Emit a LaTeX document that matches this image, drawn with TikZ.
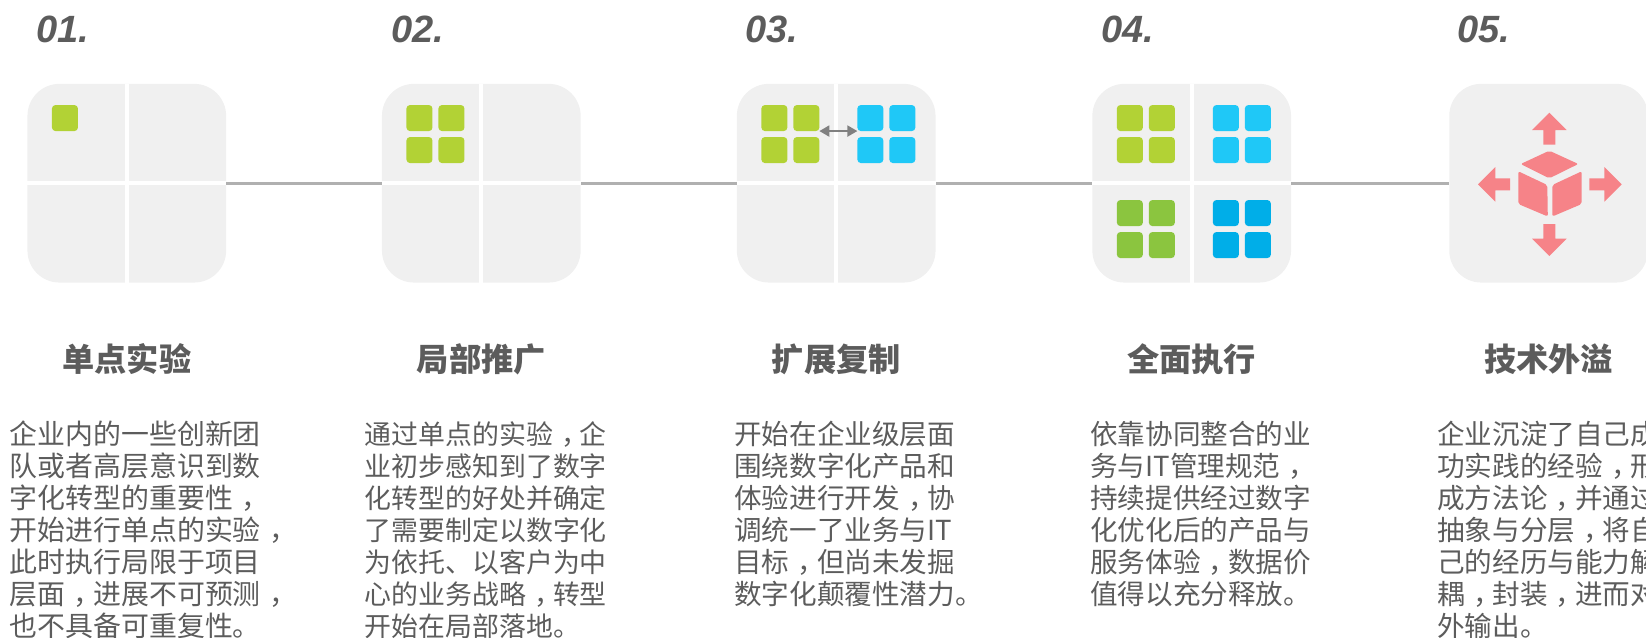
\documentclass[tikz,border=0pt]{standalone}
\usepackage{fontspec}
\setmainfont{Liberation Sans}
\newfontfamily\cjk{Noto Sans CJK SC}
\usepackage{tikz}
\usetikzlibrary{arrows.meta,positioning}
\definecolor{panelgray}{HTML}{F0F0F0}
\definecolor{linegray}{HTML}{B0B0B0}
\definecolor{textgray}{HTML}{5C5C5C}
\definecolor{limegreen}{HTML}{B2D235}
\definecolor{leafgreen}{HTML}{8BC53F}
\definecolor{skyblue}{HTML}{1FC8F7}
\definecolor{deepblue}{HTML}{00AEE8}
\definecolor{iconpink}{HTML}{F68388}
% comma sits in the middle of its cell
\newcommand{\zc}{\kern.3em，\kern-.3em}
\tikzstyle{panel} = [rectangle, fill=panelgray, rounded corners=32pt, minimum size=198.7pt, inner sep=0pt, outer sep=0pt]
\tikzstyle{gap} = [draw=white, line width=4pt]
\tikzstyle{tile} = [rectangle, rounded corners=3.5pt, minimum width=26pt, minimum height=26pt, inner sep=0pt, outer sep=0pt]
\tikzstyle{lime} = [tile, fill=limegreen]
\tikzstyle{leaf} = [tile, fill=leafgreen]
\tikzstyle{sky} = [tile, fill=skyblue]
\tikzstyle{deep} = [tile, fill=deepblue]
\tikzstyle{line} = [draw=linegray, line width=3pt]
\tikzstyle{swap} = [draw=gray, line width=2pt, {Triangle[length=10pt,width=11pt]}-{Triangle[length=10pt,width=11pt]}]
\tikzstyle{number} = [font=\fontsize{38}{38}\selectfont\bfseries\itshape, text=textgray, anchor=north west, inner sep=0pt]
\tikzstyle{heading} = [font=\cjk\fontsize{32.2}{36}\selectfont\bfseries, text=textgray, inner sep=0pt]
\tikzstyle{body} = [font=\cjk\fontsize{27.6}{32}\selectfont, text=textgray, align=left, anchor=north west, inner sep=0pt]
\tikzstyle{bodywide} = [body, font=\cjk\fontsize{27.9}{32}\selectfont]
\tikzstyle{bodynarrow} = [body, font=\cjk\fontsize{26.9}{32}\selectfont]
\tikzstyle{icon} = [fill=iconpink]
\tikzstyle{face} = [fill=iconpink, rounded corners=2pt]
\begin{document}
\begin{tikzpicture}[x=1pt, y=-1pt, node distance = 6pt]
    \useasboundingbox (0,0) rectangle (1646,637);
    \clip (0,0) rectangle (1646,637);
    % Place panels
    \node [panel] (single) at (126.8,183.2) {};
    \node [panel, right = 155.8pt of single] (local) {};
    \node [panel, right = 156.2pt of local] (extend) {};
    \node [panel, right = 156.8pt of extend] (full) {};
    \node [panel, right = 158.2pt of full] (spill) {};
    % Connectors
    \path [line] (single) -- (local);
    \path [line] (local) -- (extend);
    \path [line] (extend) -- (full);
    \path [line] (full) -- (spill);
    % White cross in panels
    \draw [gap] (single.north) -- (single.south);
    \draw [gap] (single.west) -- (single.east);
    \draw [gap] (local.north) -- (local.south);
    \draw [gap] (local.west) -- (local.east);
    \draw [gap] (extend.north) -- (extend.south);
    \draw [gap] (extend.west) -- (extend.east);
    \draw [gap] (full.north) -- (full.south);
    \draw [gap] (full.west) -- (full.east);
    % Tiles of panel 1
    \node [lime, below right = 21.2pt and 24.5pt of single.north west] (a1) {};
    % Tiles of panel 2
    \node [lime, below right = 21.2pt and 24.5pt of local.north west] (b1) {};
    \node [lime, right = of b1] (b2) {};
    \node [lime, below = of b1] (b3) {};
    \node [lime, right = of b3] (b4) {};
    % Tiles of panel 3
    \node [lime, below right = 21.2pt and 24.5pt of extend.north west] (c1) {};
    \node [lime, right = of c1] (c2) {};
    \node [lime, below = of c1] (c3) {};
    \node [lime, right = of c3] (c4) {};
    \node [sky, right = 38pt of c2] (c5) {};
    \node [sky, right = of c5] (c6) {};
    \node [sky, below = of c5] (c7) {};
    \node [sky, right = of c7] (c8) {};
    \path [swap] (c2.south east) -- (c5.south west);
    % Tiles of panel 4
    \node [lime, below right = 21.2pt and 24.5pt of full.north west] (d1) {};
    \node [lime, right = of d1] (d2) {};
    \node [lime, below = of d1] (d3) {};
    \node [lime, right = of d3] (d4) {};
    \node [sky, right = 38pt of d2] (d5) {};
    \node [sky, right = of d5] (d6) {};
    \node [sky, below = of d5] (d7) {};
    \node [sky, right = of d7] (d8) {};
    \node [leaf, below = 37pt of d3] (d9) {};
    \node [leaf, right = of d9] (d10) {};
    \node [leaf, below = of d9] (d11) {};
    \node [leaf, right = of d11] (d12) {};
    \node [deep, right = 38pt of d10] (d13) {};
    \node [deep, right = of d13] (d14) {};
    \node [deep, below = of d13] (d15) {};
    \node [deep, right = of d15] (d16) {};
    % Icon of panel 5
    \fill [icon] (1549.3,112.7) -- (1566.7,130) -- (1555.3,130) -- (1555.3,144.7) -- (1543.3,144.7) -- (1543.3,130) -- (1532,130) -- cycle;
    \fill [icon] (1549.3,256) -- (1566.7,238.7) -- (1555.3,238.7) -- (1555.3,224) -- (1543.3,224) -- (1543.3,238.7) -- (1532,238.7) -- cycle;
    \fill [icon] (1478,184.3) -- (1495.3,167) -- (1495.3,178.3) -- (1510,178.3) -- (1510,190.3) -- (1495.3,190.3) -- (1495.3,201.7) -- cycle;
    \fill [icon] (1621.7,184.3) -- (1604.3,167) -- (1604.3,178.3) -- (1589.3,178.3) -- (1589.3,190.3) -- (1604.3,190.3) -- (1604.3,201.7) -- cycle;
    \fill [face] (1549.3,150.7) -- (1578.3,164) -- (1549.3,178.3) -- (1520.7,164) -- cycle;
    \fill [face] (1518.3,171.3) -- (1547.3,185) -- (1547.8,216.5) -- (1518.3,204) -- cycle;
    \fill [face] (1581.7,171.3) -- (1552.3,185) -- (1552.3,216.5) -- (1581.7,204) -- cycle;
    % Numbers
    \node [number] (n1) at (36,16) {01.};
    \node [number] (n2) at (391,16) {02.};
    \node [number] (n3) at (745,16) {03.};
    \node [number] (n4) at (1101,16) {04.};
    \node [number] (n5) at (1457,16) {05.};
    % Headings
    \node [heading] (h1) at (single |- 0,359) {单点实验};
    \node [heading] (h2) at (local |- 0,359) {局部推广};
    \node [heading] (h3) at (extend |- 0,359) {扩展复制};
    \node [heading] (h4) at (full |- 0,359) {全面执行};
    \node [heading] (h5) at (spill |- 0,359) {技术外溢};
    % Texts
    \node [bodywide] (t1) at (9.5,421) {企业内的一些创新团\\队或者高层意识到数\\字化转型的重要性\zc\\开始进行单点的实验\zc\\此时执行局限于项目\\层面\zc 进展不可预测\zc\\也不具备可重复性。};
    \node [bodynarrow] (t2) at (364.5,421) {通过单点的实验\zc 企\\业初步感知到了数字\\化转型的好处并确定\\了需要制定以数字化\\为依托、以客户为中\\心的业务战略\zc 转型\\开始在局部落地。};
    \node [body] (t3) at (734,421) {开始在企业级层面\\围绕数字化产品和\\体验进行开发\zc 协\\调统一了业务与IT\\目标\zc 但尚未发掘\\数字化颠覆性潜力。};
    \node [body] (t4) at (1090,421) {依靠协同整合的业\\务与IT管理规范\zc\\持续提供经过数字\\化优化后的产品与\\服务体验\zc 数据价\\值得以充分释放。};
    \node [body] (t5) at (1437,421) {企业沉淀了自己成\\功实践的经验\zc 形\\成方法论\zc 并通过\\抽象与分层\zc 将自\\己的经历与能力解\\耦\zc 封装\zc 进而对\\外输出。};
\end{tikzpicture}
\end{document}
